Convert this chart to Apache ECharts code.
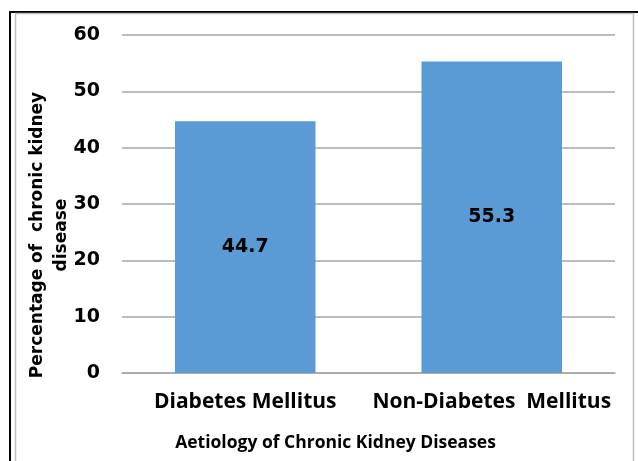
<!DOCTYPE html>
<html>
<head>
<meta charset="utf-8">
<script src="https://cdn.jsdelivr.net/npm/echarts@6/dist/echarts.min.js"></script>
<style>
  html, body { margin: 0; padding: 0; background: #fff; }
  #chart { width: 638px; height: 461px; }
</style>
</head>
<body>
<div id="chart"></div>
<script>
// Aetiology of chronic kidney disease: share of cases (%)
const categories = ['Diabetes Mellitus', 'Non-Diabetes  Mellitus'];
const percentages = [44.7, 55.3];
const yTicks = { min: 0, max: 60, interval: 10 };

const chart = echarts.init(document.getElementById('chart'), null, { renderer: 'canvas' });

chart.setOption({
  animation: false,
  backgroundColor: '#ffffff',
  graphic: [
    // outer frame: black top and left edges
    { type: 'rect', shape: { x: 9, y: 11, width: 629, height: 2 }, style: { fill: '#000' }, silent: true },
    { type: 'rect', shape: { x: 9, y: 11, width: 2, height: 450 }, style: { fill: '#000' }, silent: true },
    // inner chart-area border
    { type: 'rect', shape: { x: 15.5, y: 13.5, width: 618, height: 460 },
      style: { fill: 'none', stroke: '#BFBFBF', lineWidth: 1.5 }, silent: true }
  ],
  grid: { left: 122, right: 23, top: 35, bottom: 88, containLabel: false, outerBoundsMode: 'none' },
  xAxis: {
    type: 'category',
    data: categories,
    name: 'Aetiology of Chronic Kidney Diseases',
    nameLocation: 'middle',
    nameGap: 61,
    nameMoveOverlap: false,
    nameTextStyle: {
      fontFamily: 'Open Sans', fontWeight: 'bold', fontSize: 17.5, color: '#000',
      padding: [0, 66, 0, 0]
    },
    axisLine: { show: true, lineStyle: { color: '#A6A6A6', width: 1.5 } },
    axisTick: { show: false },
    axisLabel: {
      interval: 0,
      fontFamily: 'Open Sans', fontWeight: 'bold', fontSize: 21, color: '#000',
      margin: 19
    }
  },
  yAxis: {
    type: 'value',
    min: yTicks.min, max: yTicks.max, interval: yTicks.interval,
    name: 'Percentage of  chronic kidney\ndisease',
    nameLocation: 'middle',
    nameGap: 48,
    nameMoveOverlap: false,
    nameTextStyle: {
      fontFamily: 'DejaVu Sans', fontWeight: 'bold', fontSize: 17, color: '#000',
      lineHeight: 24, align: 'center',
      padding: [0, 62, 0, 0]
    },
    axisLine: { show: false },
    axisTick: { show: false },
    splitLine: { lineStyle: { color: '#A6A6A6', width: 1.5 } },
    axisLabel: {
      fontFamily: 'DejaVu Sans', fontWeight: 'bold', fontSize: 19, color: '#000',
      margin: 22
    }
  },
  series: [{
    type: 'bar',
    data: percentages,
    barWidth: '57%',
    itemStyle: { color: '#5B9BD5' },
    label: {
      show: true,
      position: 'inside',
      fontFamily: 'DejaVu Sans', fontWeight: 'bold', fontSize: 19, color: '#000'
    }
  }]
});
</script>
</body>
</html>
